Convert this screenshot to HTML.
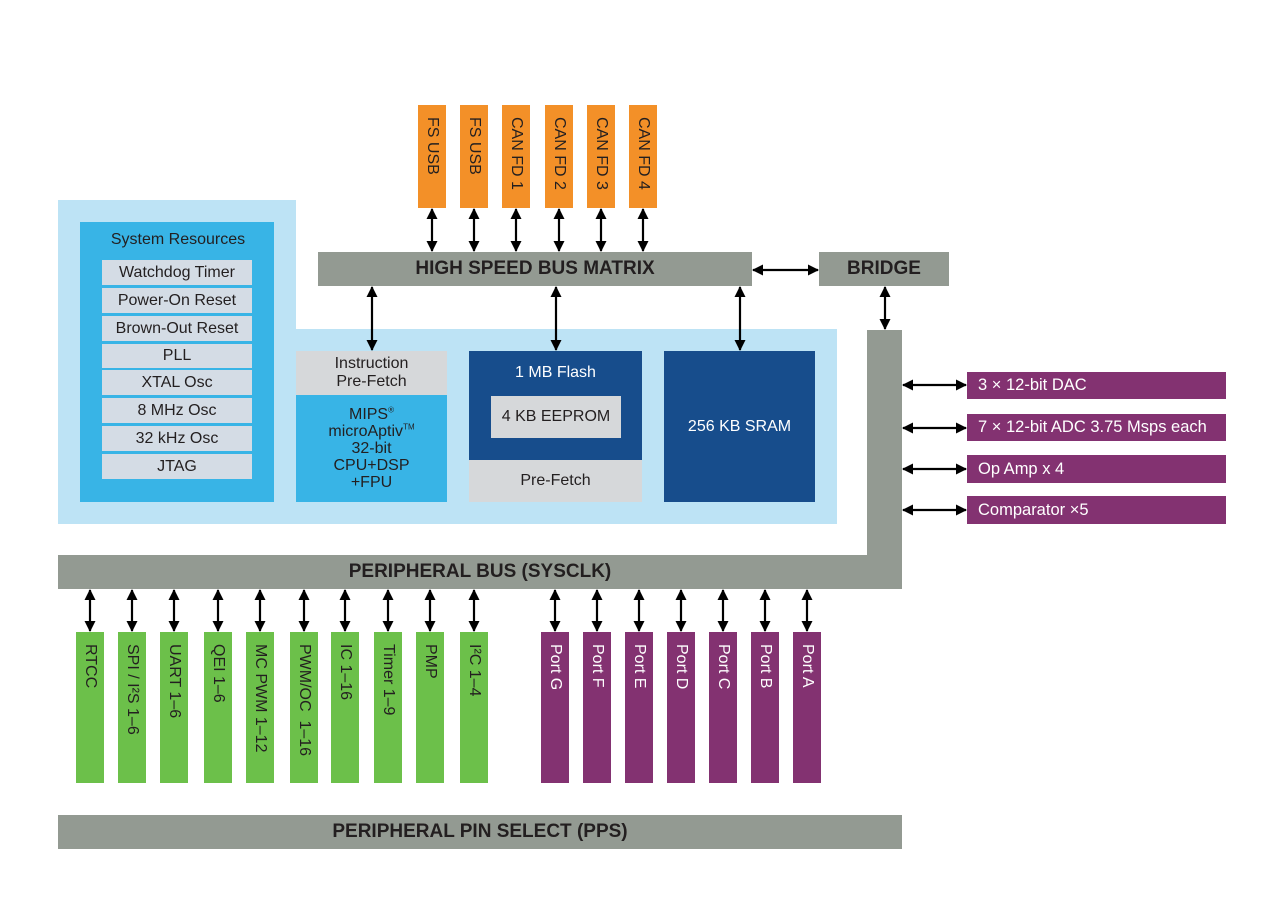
<!DOCTYPE html>
<html><head><meta charset="utf-8"><style>
body{margin:0;width:1280px;height:914px;background:#fff;position:relative;overflow:hidden;font-family:"Liberation Sans",Arial,sans-serif}
.a{position:absolute;box-sizing:border-box}
.c{display:flex;align-items:center;justify-content:center;text-align:center}
.g{background:#939a92;color:#231f20;font-weight:bold;font-size:19px}
.o{background:#f39028}
.v{writing-mode:vertical-rl;font-size:16px;display:flex;align-items:center;justify-content:flex-start;padding-top:12px}
.gr{background:#6cc04a;color:#231f20}
.pu{background:#833271;color:#fff}
.it{background:#d4dce5;font-size:16px;color:#231f20}
.ph{background:#833271;color:#fff;font-size:16.5px;display:flex;align-items:center;padding-left:11px}
</style></head><body>
<div class="a" style="left:58px;top:200px;width:238px;height:324px;background:#bde3f5"></div>
<div class="a" style="left:296px;top:329px;width:541px;height:195px;background:#bde3f5"></div>
<div class="a" style="left:80px;top:222px;width:194px;height:280px;background:#38b4e6"></div>
<div class="a c" style="left:80px;top:230px;width:196px;height:20px;font-size:16px;color:#231f20">System Resources</div>
<div class="a c it" style="left:102px;top:260px;width:150px;height:25px">Watchdog Timer</div>
<div class="a c it" style="left:102px;top:288px;width:150px;height:25px">Power-On Reset</div>
<div class="a c it" style="left:102px;top:316px;width:150px;height:25px">Brown-Out Reset</div>
<div class="a c it" style="left:102px;top:344px;width:150px;height:24px">PLL</div>
<div class="a c it" style="left:102px;top:370px;width:150px;height:25px">XTAL Osc</div>
<div class="a c it" style="left:102px;top:398px;width:150px;height:25px">8 MHz Osc</div>
<div class="a c it" style="left:102px;top:426px;width:150px;height:25px">32 kHz Osc</div>
<div class="a c it" style="left:102px;top:454px;width:150px;height:25px">JTAG</div>

<div class="a c" style="left:296px;top:351px;width:151px;height:44px;background:#d6d8da;font-size:16px;line-height:18px;color:#231f20"><div>Instruction<br>Pre-Fetch</div></div>
<div class="a c" style="left:296px;top:395px;width:151px;height:107px;background:#38b4e6;font-size:16px;line-height:17px;color:#231f20"><div>MIPS<sup style="font-size:8px;line-height:0">®</sup><br>microAptiv<sup style="font-size:8px;line-height:0">TM</sup><br>32-bit<br>CPU+DSP<br>+FPU</div></div>
<div class="a" style="left:469px;top:351px;width:173px;height:109px;background:#174d8c"></div>
<div class="a c" style="left:469px;top:362px;width:173px;height:22px;color:#fff;font-size:16px">1 MB Flash</div>
<div class="a c" style="left:491px;top:396px;width:130px;height:42px;background:#d6d8da;font-size:16px;color:#231f20">4 KB EEPROM</div>
<div class="a c" style="left:469px;top:460px;width:173px;height:42px;background:#d6d8da;font-size:16px;color:#231f20">Pre-Fetch</div>
<div class="a c" style="left:664px;top:351px;width:151px;height:151px;background:#174d8c;color:#fff;font-size:16px">256 KB SRAM</div>

<div class="a c g" style="left:318px;top:252px;width:434px;height:34px">HIGH SPEED BUS MATRIX</div>
<div class="a c g" style="left:819px;top:252px;width:130px;height:34px">BRIDGE</div>
<div class="a g" style="left:867px;top:330px;width:35px;height:259px"></div>
<div class="a c g" style="left:58px;top:555px;width:844px;height:34px">PERIPHERAL BUS (SYSCLK)</div>
<div class="a c g" style="left:58px;top:815px;width:844px;height:34px">PERIPHERAL PIN SELECT (PPS)</div>

<div class="a o v" style="left:418px;top:105px;width:28px;height:103px;color:#231f20">FS USB</div>
<div class="a o v" style="left:460px;top:105px;width:28px;height:103px;color:#231f20">FS USB</div>
<div class="a o v" style="left:502px;top:105px;width:28px;height:103px;color:#231f20">CAN FD 1</div>
<div class="a o v" style="left:545px;top:105px;width:28px;height:103px;color:#231f20">CAN FD 2</div>
<div class="a o v" style="left:587px;top:105px;width:28px;height:103px;color:#231f20">CAN FD 3</div>
<div class="a o v" style="left:629px;top:105px;width:28px;height:103px;color:#231f20">CAN FD 4</div>

<div class="a ph" style="left:967px;top:372px;width:259px;height:27px">3 × 12-bit DAC</div>
<div class="a ph" style="left:967px;top:414px;width:259px;height:27px">7 × 12-bit ADC 3.75 Msps each</div>
<div class="a ph" style="left:967px;top:455px;width:259px;height:28px">Op Amp x 4</div>
<div class="a ph" style="left:967px;top:496px;width:259px;height:28px">Comparator ×5</div>

<div class="a gr v" style="left:76px;top:632px;width:28px;height:151px">RTCC</div>
<div class="a gr v" style="left:118px;top:632px;width:28px;height:151px">SPI / I²S 1–6</div>
<div class="a gr v" style="left:160px;top:632px;width:28px;height:151px">UART 1–6</div>
<div class="a gr v" style="left:204px;top:632px;width:28px;height:151px">QEI 1–6</div>
<div class="a gr v" style="left:246px;top:632px;width:28px;height:151px">MC PWM 1–12</div>
<div class="a gr v" style="left:290px;top:632px;width:28px;height:151px">PWM/OC&nbsp; 1–16</div>
<div class="a gr v" style="left:331px;top:632px;width:28px;height:151px">IC 1–16</div>
<div class="a gr v" style="left:374px;top:632px;width:28px;height:151px">Timer 1–9</div>
<div class="a gr v" style="left:416px;top:632px;width:28px;height:151px">PMP</div>
<div class="a gr v" style="left:460px;top:632px;width:28px;height:151px">I²C 1–4</div>

<div class="a pu v" style="left:541px;top:632px;width:28px;height:151px">Port G</div>
<div class="a pu v" style="left:583px;top:632px;width:28px;height:151px">Port F</div>
<div class="a pu v" style="left:625px;top:632px;width:28px;height:151px">Port E</div>
<div class="a pu v" style="left:667px;top:632px;width:28px;height:151px">Port D</div>
<div class="a pu v" style="left:709px;top:632px;width:28px;height:151px">Port C</div>
<div class="a pu v" style="left:751px;top:632px;width:28px;height:151px">Port B</div>
<div class="a pu v" style="left:793px;top:632px;width:28px;height:151px">Port A</div>

<svg class="a" style="left:0;top:0" width="1280" height="914">
<defs><marker id="m" markerWidth="11" markerHeight="11" refX="10" refY="5.5" orient="auto-start-reverse" markerUnits="userSpaceOnUse"><path d="M0,0L11,5.5L0,11z" fill="#000"/></marker></defs>
<g stroke="#000" stroke-width="2.2" marker-start="url(#m)" marker-end="url(#m)">
<line x1="432" y1="209" x2="432" y2="251"/><line x1="474" y1="209" x2="474" y2="251"/>
<line x1="516" y1="209" x2="516" y2="251"/><line x1="559" y1="209" x2="559" y2="251"/>
<line x1="601" y1="209" x2="601" y2="251"/><line x1="643" y1="209" x2="643" y2="251"/>
<line x1="372" y1="287" x2="372" y2="350"/><line x1="556" y1="287" x2="556" y2="350"/><line x1="740" y1="287" x2="740" y2="350"/>
<line x1="753" y1="270" x2="818" y2="270"/>
<line x1="885" y1="287" x2="885" y2="329"/>
<line x1="903" y1="385" x2="966" y2="385"/><line x1="903" y1="428" x2="966" y2="428"/>
<line x1="903" y1="469" x2="966" y2="469"/><line x1="903" y1="510" x2="966" y2="510"/>
<line x1="90" y1="590" x2="90" y2="631"/><line x1="132" y1="590" x2="132" y2="631"/>
<line x1="174" y1="590" x2="174" y2="631"/><line x1="218" y1="590" x2="218" y2="631"/>
<line x1="260" y1="590" x2="260" y2="631"/><line x1="304" y1="590" x2="304" y2="631"/>
<line x1="345" y1="590" x2="345" y2="631"/><line x1="388" y1="590" x2="388" y2="631"/>
<line x1="430" y1="590" x2="430" y2="631"/><line x1="474" y1="590" x2="474" y2="631"/>
<line x1="555" y1="590" x2="555" y2="631"/><line x1="597" y1="590" x2="597" y2="631"/>
<line x1="639" y1="590" x2="639" y2="631"/><line x1="681" y1="590" x2="681" y2="631"/>
<line x1="723" y1="590" x2="723" y2="631"/><line x1="765" y1="590" x2="765" y2="631"/>
<line x1="807" y1="590" x2="807" y2="631"/>
</g></svg>
</body></html>
